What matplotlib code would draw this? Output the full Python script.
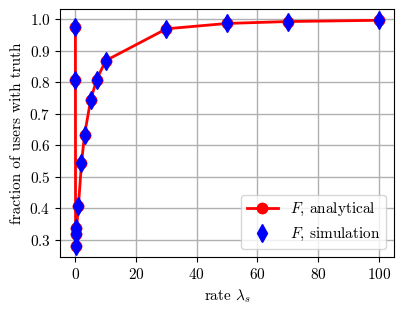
import matplotlib
matplotlib.use("Agg")
from matplotlib import pyplot as plt

plt.rcParams["font.family"] = "serif"
plt.rcParams["font.serif"] = ["cmr10"]
plt.rcParams["mathtext.fontset"] = "cm"
plt.rcParams["axes.formatter.use_mathtext"] = True

rates = [0, 0.01, 0.05, 0.1, 0.2, 1, 2, 3, 5, 7, 10, 30, 50, 70, 100]
f_analytical = [0.977, 0.809, 0.337, 0.282, 0.318, 0.408, 0.543, 0.633,
                0.743, 0.809, 0.869, 0.970, 0.987, 0.993, 0.997]
f_simulation = [0.977, 0.809, 0.337, 0.282, 0.318, 0.408, 0.543, 0.633,
                0.743, 0.809, 0.869, 0.970, 0.987, 0.993, 0.997]

fig = plt.figure(figsize=(4.07, 3.11), dpi=100)
ax = fig.add_axes([0.148, 0.174, 0.820, 0.797])
ax.plot(rates, f_analytical, color="red", marker="o", markersize=7.5,
        linewidth=2, label=r"$F$, analytical")
ax.plot(rates, f_simulation, color="blue", marker="d", markersize=9,
        linestyle="none", label=r"$F$, simulation")
ax.grid(True, color="#b0b0b0", linewidth=1)
ax.set_axisbelow(True)
ax.set_xlabel(r"rate $\lambda_s$", fontsize=11)
ax.set_ylabel("fraction of users with truth", fontsize=11)
ax.tick_params(labelsize=11)
ax.legend(loc="lower right", fontsize=11)
fig.savefig("out.png", dpi=100)
